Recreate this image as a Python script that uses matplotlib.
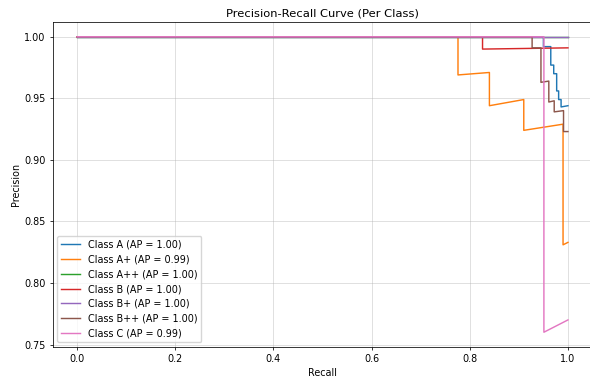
import matplotlib
matplotlib.use('Agg')
import matplotlib.pyplot as plt
import numpy as np

# scale of the original figure (it was shrunk down)
s = 0.69
plt.rcParams['font.size'] = 10 * s

labels = ['Class A (AP = 1.00)', 'Class A+ (AP = 0.99)', 'Class A++ (AP = 1.00)',
          'Class B (AP = 1.00)', 'Class B+ (AP = 1.00)', 'Class B++ (AP = 1.00)',
          'Class C (AP = 0.99)']

# recall / precision points
rec_a = [0, 0.95, 0.95, 0.965, 0.965, 0.971, 0.971, 0.977, 0.977, 0.981, 0.981, 0.986, 0.986, 1.0]
prec_a = [1, 1, 0.992, 0.992, 0.977, 0.977, 0.970, 0.970, 0.956, 0.956, 0.949, 0.949, 0.943, 0.944]

rec_ap = [0, 0.776, 0.776, 0.84, 0.84, 0.91, 0.91, 0.99, 0.99, 1.0]
prec_ap = [1, 1, 0.969, 0.971, 0.944, 0.949, 0.924, 0.929, 0.831, 0.833]

rec_app = [0, 1.0]
prec_app = [1, 1]

rec_b = [0, 0.826, 0.826, 1.0]
prec_b = [1, 1, 0.990, 0.991]

rec_bp = [0, 1.0]
prec_bp = [1, 1]

rec_bpp = [0, 0.927, 0.927, 0.945, 0.945, 0.961, 0.961, 0.972, 0.972, 0.991, 0.991, 1.0]
prec_bpp = [1, 1, 0.991, 0.991, 0.963, 0.964, 0.947, 0.948, 0.939, 0.940, 0.923, 0.923]

rec_c = [0, 0.951, 0.951, 1.0]
prec_c = [1, 1, 0.760, 0.770]

recalls = [rec_a, rec_ap, rec_app, rec_b, rec_bp, rec_bpp, rec_c]
precisions = [prec_a, prec_ap, prec_app, prec_b, prec_bp, prec_bpp, prec_c]

fig = plt.figure(figsize=(5.9, 3.81), dpi=100)
# the original was cropped: the right edge of the axes sits just off the picture
ax = fig.add_axes([52.5 / 590, 34 / 381, 540 / 590, 325 / 381])

for r, p, lab in zip(recalls, precisions, labels):
    ax.plot(r, p, label=lab, lw=1.5 * s)

ax.set_title('Precision-Recall Curve (Per Class)', fontsize=12 * s, pad=6 * s)
ax.set_xlabel('Recall', labelpad=4 * s)
ax.set_ylabel('Precision', labelpad=4 * s)
ax.grid(True, lw=0.8 * s, alpha=0.5)
ax.tick_params(width=0.8 * s, length=3.5 * s, pad=3.5 * s)
for sp in ax.spines.values():
    sp.set_linewidth(0.8 * s)
ax.spines['right'].set_visible(False)
ax.legend(loc='lower left')

fig.savefig('out.png', dpi=100)
